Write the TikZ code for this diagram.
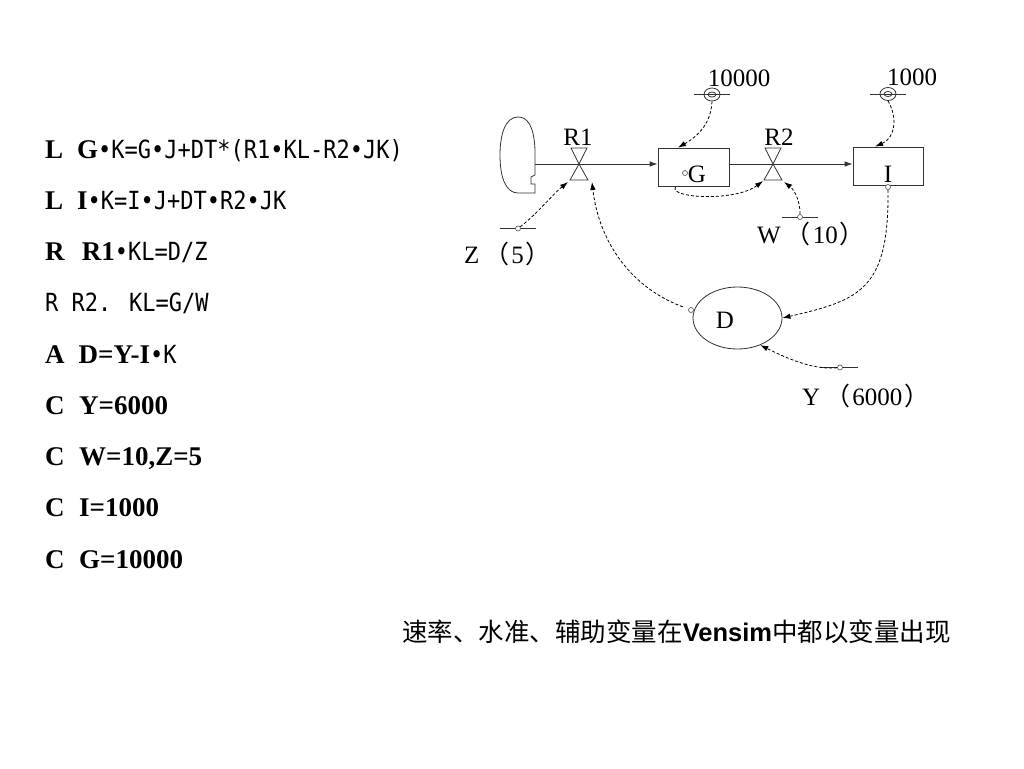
\documentclass[tikz,border=0pt]{standalone}
\usepackage{fontspec}
\setmainfont{Liberation Serif}
\newfontfamily\eqfont{DejaVu Sans Mono}[FakeStretch=0.88]
\newfontfamily\cjk{Noto Sans CJK SC}
\newfontfamily\hei{Liberation Sans}
\usetikzlibrary{arrows.meta,shapes.geometric}
\newcommand\eqm[1]{{\eqfont\fontsize{25}{30}\selectfont #1}}

\begin{document}
\begin{tikzpicture}[x=1pt, y=-1pt,
  eq/.style={anchor=base west, inner sep=0pt, font=\fontsize{27}{30}\selectfont},
  stock/.style={draw=black!80, line width=0.8pt, rectangle, fill=white,
                minimum width=71pt, minimum height=38pt, inner sep=0pt},
  aux/.style={draw=black!80, line width=0.8pt, ellipse,
              minimum width=89pt, minimum height=62pt, inner sep=0pt},
  lbl/.style={font=\fontsize{25}{30}\selectfont, inner sep=0pt},
  cl/.style={lbl, anchor=west},
  capt/.style={font=\fontsize{25.5}{30}\selectfont, inner sep=0pt},
  flow/.style={draw=black!80, line width=0.8pt, -{Latex[length=8pt,width=5.5pt]}},
  valve/.style={draw=black!80, line width=0.8pt},
  link/.style={draw=black, line width=0.8pt, dash pattern=on 3pt off 2pt,
               -{Latex[length=8pt,width=5.5pt]}},
  src/.style={circle, draw=black!70, fill=white, line width=0.6pt,
              minimum size=5pt, inner sep=0pt},
  cnst/.style={ellipse, draw=black!80, line width=0.8pt,
               minimum width=16pt, minimum height=13pt, inner sep=0pt},
]
\useasboundingbox (0,0) rectangle (1024,768);
\def\ls{51.25}  % line spacing
% Equations
\node[eq] (e1) at (45,158+0*\ls) {\textbf{L}\hspace{14pt}\textbf{G}\eqm{•K=G•J+DT*(R1•KL-R2•JK)}};
\node[eq] (e2) at (45,158+1*\ls) {\textbf{L}\hspace{14pt}\textbf{I}\eqm{•K=I•J+DT•R2•JK}};
\node[eq] (e3) at (45,158+2*\ls) {\textbf{R}\hspace{17pt}\textbf{R1}\eqm{•KL=D/Z}};
\node[eq] (e4) at (45,158+3*\ls) {\eqm{R R2. KL=G/W}};
\node[eq] (e5) at (45,158+4*\ls) {\textbf{A}\hspace{14pt}\textbf{D=Y-I}\eqm{•K}};
\node[eq] (e6) at (45,158+5*\ls) {\textbf{C}\hspace{14.5pt}\textbf{Y=6000}};
\node[eq] (e7) at (45,158+6*\ls) {\textbf{C}\hspace{14.5pt}\textbf{W=10,Z=5}};
\node[eq] (e8) at (45,158+7*\ls) {\textbf{C}\hspace{14.5pt}\textbf{I=1000}};
\node[eq] (e9) at (45,158+8*\ls) {\textbf{C}\hspace{14.5pt}\textbf{G=10000}};
% Source cloud
\draw[valve] (535,175) -- (535,150) .. controls (534,125) and (527,117) .. (518,117)
  .. controls (505,117) and (500,135) .. (500,155)
  .. controls (500,178) and (506,193) .. (518,193) -- (535,193) -- (535,184)
  -- (531,184) -- (531,177) -- cycle;
\coordinate (cloud) at (535,164);
% Stocks and auxiliary
\node[stock] (G) at (693.5,167) {};
\node[stock, minimum width=70pt] (I) at (888,166) {};
\node[aux] (D) at (737.5,318) {};
\node[lbl] (Gl) at (697,174) {G};
\node[lbl] (Il) at (888,174) {I};
\node[lbl] (Dl) at (725,320) {D};
% Flows and valves
\coordinate (r1) at (579,164);
\coordinate (r2) at (773,164);
\draw[flow] (cloud) -- (cloud -| G.west);
\draw[flow] (cloud -| G.east) -- (cloud -| I.west);
\foreach \v in {r1, r2} {
  \draw[valve] (\v) -- ++(-8,-16) -- ++(16,0) -- cycle;
  \draw[valve] (\v) -- ++(-9,16) -- ++(18,0) -- cycle;
}
\node[lbl] (R1l) at (578,137) {R1};
\node[lbl] (R2l) at (779,137) {R2};
% Initial values
\foreach \n/\x/\y in {k10000/712/94.5, k1000/888/94} {
  \node[cnst] (\n) at (\x,\y) {};
  \draw[valve] (\n.center) ++(-18,0) -- ++(36,0);
  \draw[valve] (\n.center) ellipse [x radius=4, y radius=2.5];
}
\node[lbl] (k10000l) at (739,78) {10000};
\node[lbl] (k1000l) at (912,77) {1000};
% Constants
\foreach \n/\x/\y in {kW/800/217, kZ/518/228.5, kY/840/367.5}
  \draw[valve] (\x-18,\y) -- (\x+18,\y);
\node[src] (kW) at (800,217) {};
\node[src] (kZ) at (518,228.5) {};
\node[src] (kY) at (840,367.5) {};
\node[cl] (Wl) at (757,234) {W\hspace{5pt}{\cjk （}\hspace{2pt}10\hspace{2pt}{\cjk ）}};
\node[cl] (Zl) at (464,254) {Z\hspace{5pt}{\cjk （}\hspace{2pt}5\hspace{2pt}{\cjk ）}};
\node[cl] (Yl) at (802,396) {Y\hspace{5pt}{\cjk （}\hspace{2pt}6000\hspace{2pt}{\cjk ）}};
% Information links
\node[src] (gsrc) at (685,173) {};
\node[src] (isrc) at (888,187) {};
\node[src] (dsrc) at (691,310) {};
\draw[link] (k10000.south) .. controls (711,122) and (700,135) .. ([xshift=-15.5pt]G.north);
\draw[link] (k1000.south) .. controls (898,118) and (895,138) .. ([xshift=-13pt]I.north);
\draw[link, shorten <=14pt] (gsrc) .. controls (668,198) and (735,202) .. ([shift={(-10,17)}]r2);
\draw[link] (kW) .. controls (800,197) and (792,188) .. ([shift={(11,18)}]r2);
\draw[link] (kZ) .. controls (538,213) and (552,195) .. ([shift={(-11,18)}]r1);
\draw[link, shorten <=6pt] (dsrc) .. controls (625,285) and (598,235) .. ([shift={(13,18)}]r1);
\draw[link] (isrc) .. controls (889,290) and (860,300) .. (D.east);
\draw[link] (kY) .. controls (815,370) and (790,360) .. (D.-50);
% Caption
\node[capt] (cap) at (676.5,632) {{\cjk 速率、水准、辅助变量在}{\hei\bfseries Vensim}{\cjk 中都以变量出现}};
\end{tikzpicture}
\end{document}
